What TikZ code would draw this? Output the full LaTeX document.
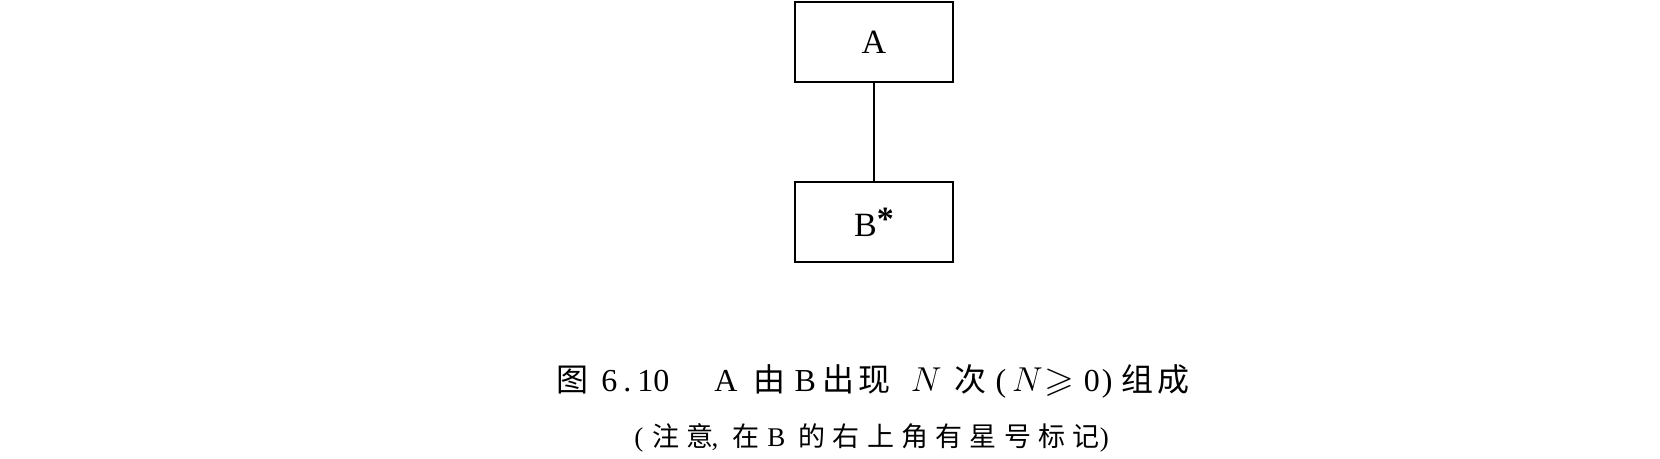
\documentclass[tikz,border=0pt]{standalone}
\usepackage{fontspec}
\usepackage{amssymb}
\setmainfont{Liberation Serif}
\newfontfamily\cjk{Noto Sans CJK SC}
\newfontfamily\cjkwide[LetterSpace=27]{Noto Sans CJK SC}

\begin{document}
\begin{tikzpicture}
[boxDecorate/.style={shape=rectangle,draw,line width=1pt,minimum width=79pt,
   minimum height=40pt,inner sep=0pt,font=\fontsize{17}{20}\selectfont},
 lineDecorate/.style={-,line width=1pt},
 titleDecorate/.style={anchor=west,inner sep=0pt,font=\fontsize{16}{19}\selectfont},
 noteDecorate/.style={anchor=west,inner sep=0pt,font=\fontsize{13.5}{16}\selectfont},
 x=0.5pt,y=-0.5pt]
\useasboundingbox (0,0) rectangle (1660,459);
%% boxes
\node (A) at (874,42.5) [boxDecorate] {A};
\node (B) at (874,222.5) [boxDecorate] {B\raisebox{3pt}{\bfseries *}};
%% line
\path (A) edge[lineDecorate] (B);
%% caption
\node (title) at (556,381) [titleDecorate]
  {{\cjk 图}\hspace{6.5pt}6\hspace{3pt}.\hspace{3pt}10\hspace{22.5pt}A\hspace{8pt}{\cjk 由}\hspace{4.5pt}B\hspace{3.5pt}{\cjk 出}\hspace{2pt}{\cjk 现}\hspace{10pt}$N$\hspace{6.5pt}{\cjk 次}\hspace{4.5pt}(\hspace{3pt}$N$\hspace{1pt}\scalebox{1.2}[1.1]{$\geqslant$}\hspace{4.5pt}0\hspace{1pt})\hspace{4.5pt}{\cjk 组}\hspace{2pt}{\cjk 成}};
\node (note) at (634,438) [noteDecorate]
  {(\hspace{4.5pt}{\cjkwide 注意}\hspace{-1pt},\hspace{7pt}{\cjkwide 在}\hspace{4pt}B\hspace{6.5pt}{\cjkwide 的右上角有星号标记})};
\end{tikzpicture}
\end{document}
